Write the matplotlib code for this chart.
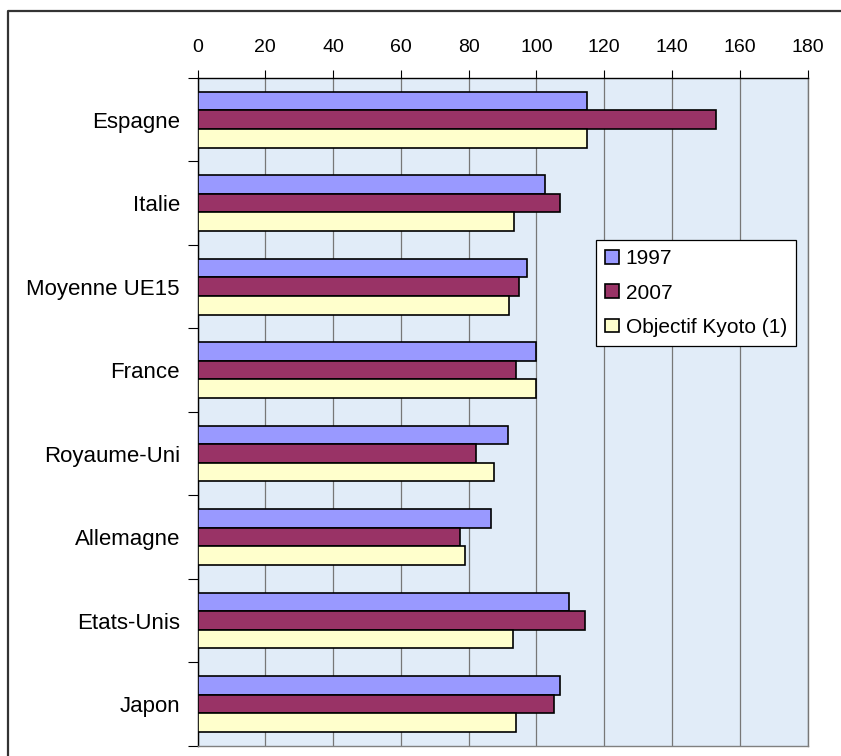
import matplotlib.pyplot as plt
import numpy as np
from matplotlib.lines import Line2D

plt.rcParams['font.family'] = ['Liberation Sans', 'DejaVu Sans']

# Data (indice, base 100 = 1990)
pays = ["Espagne", "Italie", "Moyenne UE15", "France",
        "Royaume-Uni", "Allemagne", "Etats-Unis", "Japon"]
val_1997 = [114.8, 102.6, 97.3, 100.0, 91.5, 86.7, 109.5, 106.9]
val_2007 = [153.0, 106.9, 95.0, 94.0, 82.2, 77.5, 114.4, 105.1]
objectif_kyoto = [115.0, 93.5, 92.0, 100.0, 87.5, 79.0, 93.0, 94.0]

series = [("1997", val_1997, "#9999FF"),
          ("2007", val_2007, "#993366"),
          ("Objectif Kyoto (1)", objectif_kyoto, "#FFFFCC")]

W, H = 841, 756
fig = plt.figure(figsize=(W / 100, H / 100), dpi=100)
ax = fig.add_axes([197.5 / W, 1 - 745.7 / H, 610 / W, 667.7 / H])
ax.set_facecolor("#e1ecf8")

# Bars, 3 per country, 1997 on top
y = np.arange(len(pays))
h = 0.2225
for i, (label, vals, col) in enumerate(series):
    ax.barh(y + (i - 1) * h, vals, height=h, color=col, edgecolor="black",
            linewidth=1.2, label=label, zorder=3)

ax.set_ylim(len(pays) - 0.5, -0.5)
ax.set_xlim(0, 180)

# X axis on top
ax.xaxis.tick_top()
ax.set_xticks(np.arange(0, 181, 20))
ax.tick_params(axis="x", direction="out", length=6, width=0.8, pad=9.8,
               labelsize=14, color="black")
ax.grid(axis="x", color="#777777", linewidth=0.9, zorder=1)

# Category labels, ticks between categories
ax.set_yticks(y)
ax.set_yticklabels(pays)
ax.set_yticks(np.arange(-0.5, len(pays)), minor=True)
ax.tick_params(axis="y", which="major", length=0, pad=12.6, labelsize=16)
ax.tick_params(axis="y", which="minor", direction="out", length=7,
               width=0.8, color="black")

ax.spines["top"].set_color("black")
ax.spines["left"].set_color("black")
ax.spines["bottom"].set_color("#808080")
ax.spines["right"].set_color("#777777")
for s in ax.spines.values():
    s.set_linewidth(1.0)

# Legend
leg = ax.legend(loc="upper left", bbox_to_anchor=(0.6533, 0.7574),
                fontsize=15, frameon=True, fancybox=False, framealpha=1,
                edgecolor="black", handlelength=0.63, handleheight=0.63,
                handletextpad=0.34, labelspacing=0.73, borderpad=0.45,
                borderaxespad=0)
leg.get_frame().set_linewidth(0.9)

# Outer frame (top and left edges only visible)
fig.add_artist(Line2D([7.5 / W, 7.5 / W, 1.0], [0.0, 1 - 11 / H, 1 - 11 / H],
                      transform=fig.transFigure, color="#333333", linewidth=1.6))

plt.savefig("out.png", dpi=100)
